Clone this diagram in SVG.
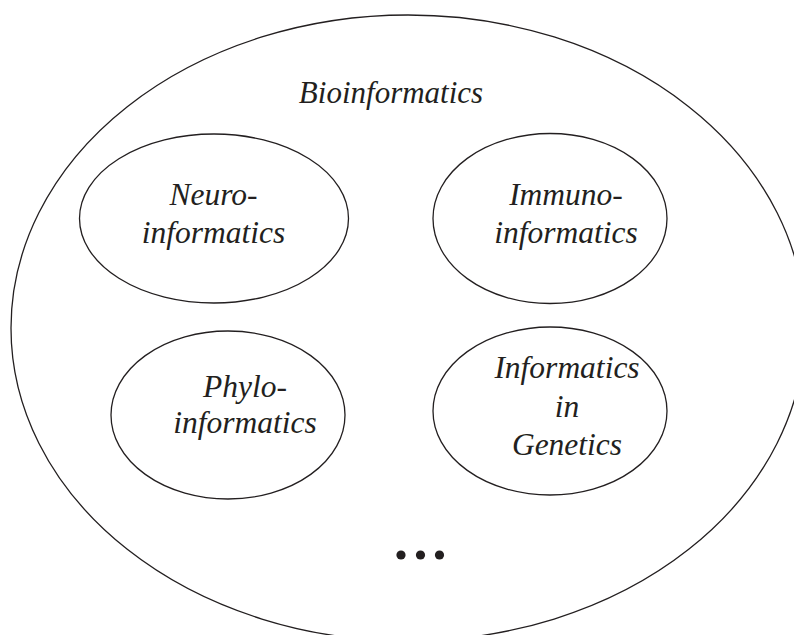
<svg xmlns="http://www.w3.org/2000/svg" width="794" height="635" viewBox="0 0 794 635">
<style>
.o{fill:none;stroke:#231f20;stroke-width:1.3}
.t{font-family:"Liberation Serif","Times New Roman",serif;font-style:italic;font-size:31.5px;fill:#231f20;text-anchor:middle}
.d{fill:#231f20}
</style>
<rect width="794" height="635" fill="#fff"/>
<g id="bioinformatics">
<ellipse class="o" cx="408" cy="328" rx="397" ry="313"/>
<text class="t" x="391" y="103" style="font-size:31px">Bioinformatics</text>
</g>
<g id="neuroinformatics">
<ellipse class="o" cx="214" cy="218.5" rx="134.5" ry="84.5"/>
<text class="t" x="213.5" y="205">Neuro-</text>
<text class="t" x="213.5" y="243">informatics</text>
</g>
<g id="immunoinformatics">
<ellipse class="o" cx="550" cy="218.5" rx="117" ry="85"/>
<text class="t" x="566" y="205">Immuno-</text>
<text class="t" x="566" y="243">informatics</text>
</g>
<g id="phyloinformatics">
<ellipse class="o" cx="228" cy="415" rx="117" ry="84"/>
<text class="t" x="245" y="397">Phylo-</text>
<text class="t" x="245" y="433">informatics</text>
</g>
<g id="genetics">
<ellipse class="o" cx="550" cy="411" rx="117" ry="84"/>
<text class="t" x="567" y="378">Informatics</text>
<text class="t" x="567" y="417">in</text>
<text class="t" x="567" y="455">Genetics</text>
</g>
<g id="ellipsis">
<circle class="d" cx="401" cy="555" r="4.6"/>
<circle class="d" cx="420.5" cy="555" r="4.6"/>
<circle class="d" cx="439.5" cy="555" r="4.6"/>
</g>
<g id="connectors"/>
</svg>
